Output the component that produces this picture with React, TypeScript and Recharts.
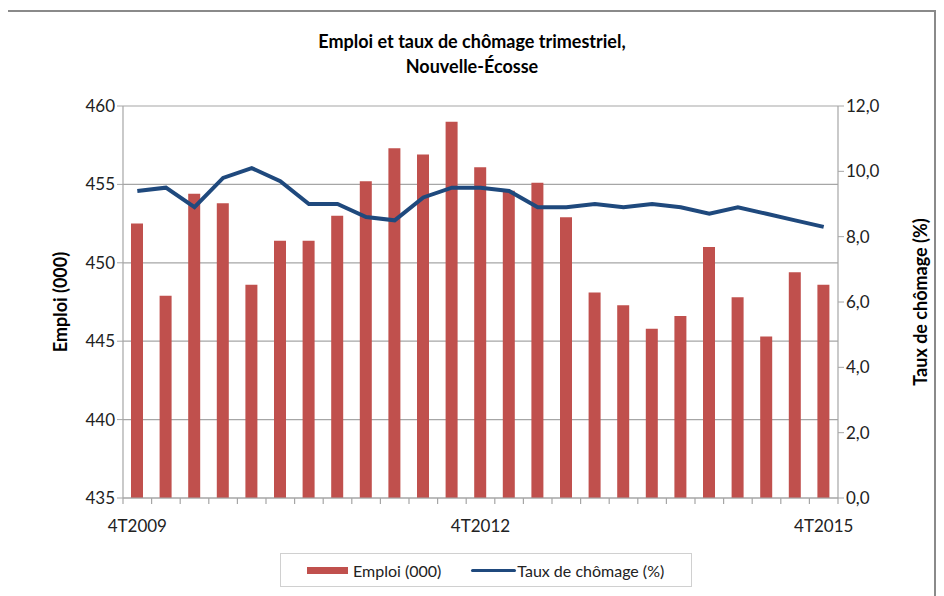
import React from 'react'
import { ComposedChart, Bar, Line, XAxis, YAxis, CartesianGrid } from 'recharts'

const quarters = [
  '4T2009', '1T2010', '2T2010', '3T2010', '4T2010',
  '1T2011', '2T2011', '3T2011', '4T2011',
  '1T2012', '2T2012', '3T2012', '4T2012',
  '1T2013', '2T2013', '3T2013', '4T2013',
  '1T2014', '2T2014', '3T2014', '4T2014',
  '1T2015', '2T2015', '3T2015', '4T2015'
]
const emploi = [452.5, 447.9, 454.4, 453.8, 448.6, 451.4, 451.4, 453.0, 455.2, 457.3, 456.9, 459.0, 456.1, 454.6, 455.1, 452.9, 448.1, 447.3, 445.8, 446.6, 451.0, 447.8, 445.3, 449.4, 448.6]
const taux = [9.4, 9.5, 8.9, 9.8, 10.1, 9.7, 9.0, 9.0, 8.6, 8.5, 9.2, 9.5, 9.5, 9.4, 8.9, 8.9, 9.0, 8.9, 9.0, 8.9, 8.7, 8.9, 8.7, 8.5, 8.3]
const labelledQuarters = ['4T2009', '4T2012', '4T2015']
const leftTicks = [435, 440, 445, 450, 455, 460]
const rightTicks = [0, 2, 4, 6, 8, 10, 12]

const data = quarters.map((q, i) => ({ q, emploi: emploi[i], taux: taux[i] }))

const FONT = 'Lato, "Open Sans", sans-serif'
const RED = '#c0504d'
const BLUE = '#1f497d'
const GRID = '#a6a6a6'
const TICK_LEN = 6

const AxisTitle = ({ viewBox, value, shift }: any) => {
  if (!viewBox) return null
  const cx = viewBox.x + shift
  const cy = viewBox.y + viewBox.height / 2
  return (
    <text x={cx} y={cy} transform={`rotate(-90, ${cx}, ${cy})`} textAnchor="middle" dominantBaseline="central"
      style={{ fontFamily: FONT, fontWeight: 700, fontSize: 18, fill: '#000' }}>{value}</text>
  )
}

// tick marks sit between categories (Excel style), labels only every 12 quarters
const QuarterTick = ({ x, y, payload, index }: any) => {
  const half = payload.offset || 0
  const axisY = y - TICK_LEN
  const isLast = index === quarters.length - 1
  return (
    <g>
      <line x1={x - half} x2={x - half} y1={axisY} y2={axisY + TICK_LEN} stroke={GRID} strokeWidth={1.2} />
      {isLast && <line x1={x + half} x2={x + half} y1={axisY} y2={axisY + TICK_LEN} stroke={GRID} strokeWidth={1.2} />}
      {labelledQuarters.includes(payload.value) && (
        <text x={x} y={axisY + 27} textAnchor="middle" dominantBaseline="central"
          style={{ fill: '#222', fontSize: 17, fontFamily: FONT }}>{payload.value}</text>
      )}
    </g>
  )
}

export default function App(){
  const tickStyle = { fill: '#222', fontSize: 17, fontFamily: FONT }
  return (
    <div style={{ position: 'relative', width: 928, height: 588, fontFamily: FONT }}>
      <div style={{ position: 'absolute', left: -3, top: 2, width: 931, height: 600, border: '2px solid #8a8a8a', boxSizing: 'border-box' }} />
      <div style={{ position: 'absolute', left: 0, top: 21, width: 928, textAlign: 'center', fontWeight: 700, fontSize: 18, lineHeight: '25px', color: '#000' }}>
        <div>Emploi et taux de chômage trimestriel,</div>
        <div>Nouvelle-Écosse</div>
      </div>
      <div style={{ position: 'absolute', left: 0, top: 0 }}>
        <ComposedChart width={928} height={540} data={data} margin={{ top: 98, right: 38, left: 55, bottom: 10 }} barCategoryGap={0}>
          <CartesianGrid yAxisId="left" vertical={false} stroke={GRID} strokeWidth={1.2} />
          <XAxis dataKey="q" interval={0} axisLine={{ stroke: GRID, strokeWidth: 1.2 }} tickLine={false}
            tickSize={TICK_LEN} tickMargin={0} height={40} tick={<QuarterTick />} />
          <YAxis yAxisId="left" domain={[435, 460]} ticks={leftTicks} width={60} tick={tickStyle}
            axisLine={{ stroke: GRID, strokeWidth: 1.2 }} tickLine={{ stroke: GRID }} tickSize={6} tickMargin={2}
            label={<AxisTitle value="Emploi (000)" shift={-3} />} />
          <YAxis yAxisId="right" orientation="right" domain={[0, 12]} ticks={rightTicks} width={60} tick={tickStyle}
            tickFormatter={(v: number) => v.toFixed(1).replace('.', ',')}
            axisLine={{ stroke: GRID, strokeWidth: 1.2 }} tickLine={{ stroke: GRID }} tickSize={6} tickMargin={2}
            label={<AxisTitle value="Taux de chômage (%)" shift={82} />} />
          <Bar yAxisId="left" dataKey="emploi" fill={RED} barSize={12} isAnimationActive={false} name="Emploi (000)" />
          <Line yAxisId="right" dataKey="taux" stroke={BLUE} strokeWidth={4} dot={false} activeDot={false} type="linear" isAnimationActive={false} name="Taux de chômage (%)" />
        </ComposedChart>
      </div>
      <div style={{ position: 'absolute', left: 272, top: 545, width: 412, height: 34, border: '1px solid #d0d0d0', boxSizing: 'border-box', display: 'flex', alignItems: 'center', fontSize: 16, color: '#222' }}>
        <span style={{ marginLeft: 26, width: 41, height: 7, background: RED, display: 'inline-block' }} />
        <span style={{ marginLeft: 5 }}>Emploi (000)</span>
        <span style={{ marginLeft: 30, width: 45, height: 3, background: BLUE, display: 'inline-block', borderRadius: 2 }} />
        <span style={{ marginLeft: 1 }}>Taux de chômage (%)</span>
      </div>
    </div>
  )
}
